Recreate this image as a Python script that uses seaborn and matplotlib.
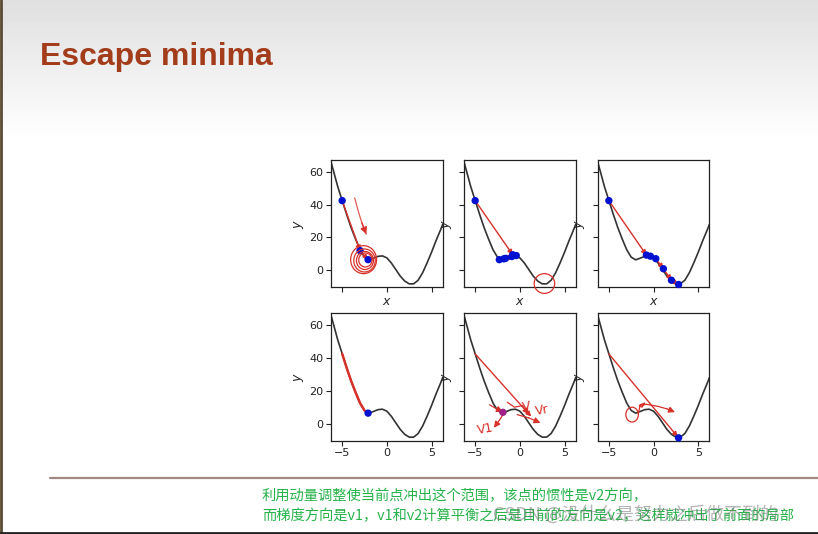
import numpy as np
import pandas as pd
import matplotlib
matplotlib.use("Agg")
import matplotlib.pyplot as plt
from matplotlib.patches import Ellipse
import seaborn as sns

# ---------------- data ----------------
curve_x = [-6.25, -6.0, -5.5, -5.0, -4.5, -4.0, -3.5, -3.0, -2.5, -2.0, -1.5, -1.0,
           -0.5, 0.0, 0.5, 1.0, 1.5, 2.0, 2.5, 3.0, 3.5, 4.0, 4.5, 5.0, 5.5, 6.0, 6.25]
curve_y = [66.0, 61.0, 51.0, 42.5, 34.0, 26.0, 19.0, 12.5, 8.0, 6.4, 7.4, 8.5,
           8.8, 7.6, 4.5, 0.5, -3.5, -6.5, -8.2, -8.2, -6.0, -1.5, 4.5, 11.0, 18.0, 24.5, 28.0]

# trajectories (x, y) per panel
traj1_x = [-5.0, -3.0, -2.1]
traj1_y = [42.4, 12.0, 6.5]
traj2_x = [-5.0, -0.8, -2.3, -0.4, -1.8, -0.9, -1.6]
traj2_y = [42.4, 9.5, 6.5, 9.0, 7.0, 8.4, 7.3]
traj3_x = [-5.0, -0.8, -0.35, 0.25, 1.1, 2.0, 2.8]
traj3_y = [42.4, 9.3, 8.6, 7.1, 1.0, -6.0, -8.6]
traj4_x = [-5.0, -4.5, -4.0, -3.5, -3.0, -2.5, -2.1]
traj4_y = [42.5, 34.0, 26.0, 19.0, 12.5, 8.0, 6.4]
traj5_x = [-5.0, 1.27]
traj5_y = [42.4, 4.3]
traj5_dot_x = [-1.9]
traj5_dot_y = [6.9]
traj6_x = [-5.0, 2.7]
traj6_y = [42.4, -8.0]
traj6_dot_x = [2.8]
traj6_dot_y = [-8.6]

# hand-drawn annotation strokes (data units)
sketch1_arrow_x = [-3.6, -3.2, -2.8, -2.3]
sketch1_arrow_y = [44.0, 36.0, 29.0, 22.0]
sketch1_loops_w = [2.9, 2.4, 1.9, 1.5]
sketch1_loops_h = [17.0, 14.0, 11.0, 8.5]
sketch1_loop_cx = [-2.6, -2.5, -2.45, -2.4]
sketch1_loop_cy = [6.5, 6.0, 6.0, 6.3]
sketch2_ell = (2.75, -8.0, 2.3, 12.0)
sketch5_strokes = [
    ([-3.4, -2.6, -1.9], [11.5, 9.0, 7.2]),
    ([-1.8, -2.3, -2.9], [6.2, 2.0, -2.5]),
    ([-0.3, 1.0, 2.3], [5.5, 3.5, 0.5]),
    ([-1.4, -0.6, 0.3, 1.0], [13.0, 10.0, 11.0, 5.5]),
]
sketch5_text = [(-4.9, -6.5, "V1"), (1.6, 5.5, "Vr"), (0.2, 7.5, "V")]
sketch6_circle = (-2.4, 5.5, 1.4, 9.0)
sketch6_stroke_x = [-1.7, -1.5, -1.0, -1.3, -1.6, -0.8, 0.5, 1.5, 2.4]
sketch6_stroke_y = [6.0, 11.5, 12.5, 10.0, 11.0, 11.8, 10.5, 9.0, 7.0]

xticks = [-5, 0, 5]
yticks = [0, 20, 40, 60]

# ---------------- style ----------------
sns.set_theme(style="ticks")
plt.rcParams["font.family"] = ["DejaVu Sans", "Noto Sans CJK SC"]
plt.rcParams["xtick.labelsize"] = 8
plt.rcParams["ytick.labelsize"] = 8
plt.rcParams["xtick.major.size"] = 3.5
plt.rcParams["ytick.major.size"] = 3.5
plt.rcParams["axes.linewidth"] = 0.9
plt.rcParams["xtick.major.width"] = 0.8
plt.rcParams["ytick.major.width"] = 0.8

RED = "#d8312a"
BLUE = "#0010d0"
CURVE = "#333333"
DOT = 28

fig = plt.figure(figsize=(8.18, 5.34), dpi=100)

# background slide
bg = fig.add_axes([0, 0, 1, 1], zorder=-10)
grad = np.ones((534, 2))
for r in range(534):
    t = min(r / 140.0, 1.0)
    grad[r, :] = 0.875 + 0.125 * t
bg.imshow(grad, cmap="gray", vmin=0, vmax=1, extent=[0, 818, 534, 0], aspect="auto")
bg.set_xlim(0, 818)
bg.set_ylim(534, 0)
bg.plot([50, 818], [478, 478], color="#a08a80", lw=1.6)
bg.plot([1, 1], [0, 534], color="#5a4a30", lw=2)
bg.plot([0, 818], [533, 533], color="#222222", lw=2)
bg.axis("off")

fig.text(40 / 818, 1 - 57 / 534, "Escape minima", fontsize=23, fontweight="bold",
         color="#a33c1b", family="Liberation Sans", va="center", ha="left")

fig.text(262 / 818, 1 - 496 / 534, "利用动量调整使当前点冲出这个范围，该点的惯性是v2方向，",
         fontsize=10.3, color="#27b34a", family=["Noto Sans CJK SC", "DejaVu Sans"], va="center")
fig.text(262 / 818, 1 - 516 / 534, "而梯度方向是v1，v1和v2计算平衡之后是目前的方向是v2，这样就冲出了前面的局部",
         fontsize=10.3, color="#27b34a", family=["Noto Sans CJK SC", "DejaVu Sans"], va="center")
fig.text(493 / 818, 1 - 514 / 534, "CSDN @没什么是努力之后做不到的",
         fontsize=13, color="#777777", alpha=0.55, family=["Noto Sans CJK SC", "DejaVu Sans"], va="center")

lefts = [331, 464, 597.7]
tops = [160, 313.3]
W, H = 111.7, 127.3
axes = []
for r in range(2):
    for c in range(3):
        ax = fig.add_axes([lefts[c] / 818, 1 - (tops[r] + H) / 534, W / 818, H / 534])
        axes.append(ax)

df = pd.DataFrame({"x": curve_x, "y": curve_y})


def arrow(ax, x0, y0, x1, y1, lw=1.0, ms=7):
    ax.annotate("", xy=(x1, y1), xytext=(x0, y0),
                arrowprops=dict(arrowstyle="-|>", color=RED, lw=lw, mutation_scale=ms,
                                shrinkA=0, shrinkB=0), zorder=4, annotation_clip=False)


def traj(ax, xs, ys):
    for i in range(len(xs) - 1):
        arrow(ax, xs[i], ys[i], xs[i + 1], ys[i + 1])


for i, ax in enumerate(axes):
    sns.lineplot(data=df, x="x", y="y", ax=ax, color=CURVE, lw=1.2, sort=False, zorder=2)
    ax.set_xlim(-6.25, 6.25)
    ax.set_ylim(-10.3, 67.1)
    ax.set_xticks(xticks)
    ax.set_yticks(yticks)
    ax.set_ylabel("$y$", fontsize=9, labelpad=2)
    for s in ax.spines.values():
        s.set_visible(True)
        s.set_color("#222222")
    ax.tick_params(colors="#222222", pad=2)
    if i < 3:
        ax.set_xlabel("$x$", fontsize=9, labelpad=0)
        ax.set_xticklabels([])
    else:
        ax.set_xlabel("")
    if i % 3 != 0:
        ax.set_yticklabels([])

# panel 1
ax = axes[0]
traj(ax, traj1_x, traj1_y)
sns.scatterplot(x=traj1_x, y=traj1_y, ax=ax, color=BLUE, s=DOT, edgecolor="none", zorder=5)
ax.plot(sketch1_arrow_x, sketch1_arrow_y, color=RED, lw=0.9, alpha=0.8)
arrow(ax, sketch1_arrow_x[-2], sketch1_arrow_y[-2], sketch1_arrow_x[-1], sketch1_arrow_y[-1], lw=0.9, ms=10)
for cx, cy, w, h in zip(sketch1_loop_cx, sketch1_loop_cy, sketch1_loops_w, sketch1_loops_h):
    ax.add_patch(Ellipse((cx, cy), w, h, fill=False, ec=RED, lw=0.9, zorder=6, clip_on=False))

# panel 2
ax = axes[1]
traj(ax, traj2_x, traj2_y)
sns.scatterplot(x=traj2_x, y=traj2_y, ax=ax, color=BLUE, s=DOT, edgecolor="none", zorder=5)
cx, cy, w, h = sketch2_ell
ax.add_patch(Ellipse((cx, cy), w, h, angle=0, fill=False, ec=RED, lw=0.9, zorder=6, clip_on=False))

# panel 3
ax = axes[2]
traj(ax, traj3_x, traj3_y)
sns.scatterplot(x=traj3_x, y=traj3_y, ax=ax, color=BLUE, s=DOT, edgecolor="none", zorder=5,
                clip_on=False)

# panel 4
ax = axes[3]
ax.plot(traj4_x, traj4_y, color=RED, lw=1.8, zorder=3)
sns.scatterplot(x=traj4_x[-1:], y=traj4_y[-1:], ax=ax, color=BLUE, s=DOT, edgecolor="none", zorder=5)

# panel 5
ax = axes[4]
traj(ax, traj5_x, traj5_y)
sns.scatterplot(x=traj5_dot_x, y=traj5_dot_y, ax=ax, color="#a0208a", s=DOT, edgecolor="none", zorder=5)
for xs, ys in sketch5_strokes:
    ax.plot(xs[:-1], ys[:-1], color=RED, lw=0.9)
    arrow(ax, xs[-2], ys[-2], xs[-1], ys[-1], lw=0.9, ms=9)
for tx, ty, tt in sketch5_text:
    ax.text(tx, ty, tt, color=RED, fontsize=9, family="DejaVu Sans", rotation=10)

# panel 6
ax = axes[5]
traj(ax, traj6_x, traj6_y)
sns.scatterplot(x=traj6_dot_x, y=traj6_dot_y, ax=ax, color=BLUE, s=DOT, edgecolor="none", zorder=5,
                clip_on=False)
cx, cy, w, h = sketch6_circle
ax.add_patch(Ellipse((cx, cy), w, h, fill=False, ec=RED, lw=0.9, zorder=6))
ax.plot(sketch6_stroke_x[:-1], sketch6_stroke_y[:-1], color=RED, lw=0.9)
arrow(ax, sketch6_stroke_x[-2], sketch6_stroke_y[-2], sketch6_stroke_x[-1], sketch6_stroke_y[-1], lw=0.9, ms=9)

fig.savefig("out.png", dpi=100)
